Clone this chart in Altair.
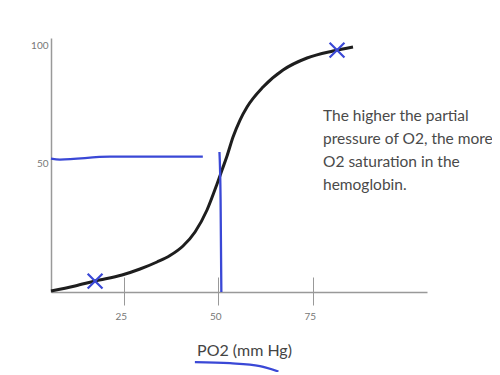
import altair as alt
import pandas as pd

# Oxygen dissociation curve (hand-traced)
curve_x = [5.74, 12.09, 17.38, 24.52, 29.29, 33.78, 37.22, 40.66, 43.84, 47.01, 49.66, 50.98, 52.30, 53.89, 55.74, 57.60, 61.83, 67.12, 73.47, 80.34, 85.63]
curve_y = [-3.58, -1.47, 0.63, 3.16, 5.69, 8.64, 11.37, 15.38, 21.27, 30.54, 41.49, 47.39, 53.29, 61.29, 68.45, 73.93, 82.35, 89.51, 94.57, 97.52, 99.2]

# Blue hand-drawn guide strokes
hline_x = [5.74, 8.1, 21.3, 45.9]
hline_y = [52.2, 51.8, 53.0, 53.0]
vline_x = [50.3, 50.6, 50.8]
vline_y = [55.0, 34.8, -4.0]
under_x = [43.8, 53.1, 61.0, 65.9]
under_y = [-33.5, -34.0, -35.2, -37.5]

# X marks
mark_x = [17.4, 81.4]
mark_y = [0.6, 97.9]

x_ticks = [25, 50, 75]
y_ticks = [50, 100]
x_title = "PO2 (mm Hg)"
note_lines = ["The higher the partial", "pressure of O2, the more", "O2 saturation in the", "hemoglobin."]

BLUE = "#3a48d6"
FONT = "Lato"

xscale = alt.Scale(domain=[5.74, 105.2], nice=False, zero=False)
yscale = alt.Scale(domain=[-4, 103], nice=False, zero=False)

yaxis = alt.Axis(values=y_ticks, title=None, grid=False, tickSize=0, labelPadding=3,
                 labelFont=FONT, labelFontSize=10, labelColor="#777",
                 domainColor="#999", domainWidth=1.5)

def X(axis=None):
    return alt.X("x:Q", scale=xscale, axis=axis)

def Y():
    return alt.Y("y:Q", scale=yscale, axis=yaxis)

curve_df = pd.DataFrame({"x": curve_x, "y": curve_y})
curve = alt.Chart(curve_df).mark_line(color="#1e1e1e", strokeWidth=3, interpolate="monotone").encode(
    x=X(alt.Axis(values=x_ticks, grid=False, tickSize=13, tickColor="#999", tickWidth=1,
                 labelPadding=6, labelOffset=-3, labelFont=FONT, labelFontSize=10, labelColor="#777",
                 domainColor="#999", domainWidth=1.5,
                 title=x_title, titleFont=FONT, titleFontSize=16, titleFontWeight="normal",
                 titleColor="#444", titleX=193, titleY=58, titleBaseline="middle", titleAlign="center")),
    y=Y(),
)

rows = []
for name, xs, ys in [("h", hline_x, hline_y), ("v", vline_x, vline_y), ("u", under_x, under_y)]:
    for i, (a, b) in enumerate(zip(xs, ys)):
        rows.append({"s": name, "i": i, "x": a, "y": b})
blue_df = pd.DataFrame(rows)
blue = alt.Chart(blue_df).mark_line(color=BLUE, strokeWidth=2.3, interpolate="monotone").encode(
    x=X(), y=Y(), detail="s:N", order="i:Q"
)

# second x axis to extend tick marks above the baseline
ticks_up = alt.Chart(pd.DataFrame({"x": x_ticks, "y": [0] * len(x_ticks)})).mark_point(opacity=0).encode(
    x=X(alt.Axis(values=x_ticks, orient="bottom", offset=-15, tickSize=15, tickColor="#999", tickWidth=1,
                 labels=False, domain=False, grid=False, title=None)),
    y=Y(),
)

marks = alt.Chart(pd.DataFrame({"x": mark_x, "y": mark_y})).mark_point(
    shape="M-1,-1L1,1M1,-1L-1,1", filled=False, color=BLUE, strokeWidth=2.2, size=220, opacity=1
).encode(x=X(), y=Y())

note = alt.Chart(pd.DataFrame({"x": [77.7], "y": [68.2], "t": ["\n".join(note_lines)]})).mark_text(
    align="left", baseline="alphabetic", font=FONT, fontSize=15.5, color="#4a4a4a",
    lineBreak="\n", lineHeight=23
).encode(x=X(), y=Y(), text="t:N")

chart = alt.layer(curve, ticks_up, blue, marks, note).resolve_axis(x="independent").properties(
    width=376, height=254,
    padding={"left": 43, "top": 30, "right": 65, "bottom": 80},
    autosize=alt.AutoSizeParams(type="none"),
).configure(background="white").configure_view(stroke=None, strokeWidth=0)

chart.save("out.html", embed_options={"renderer": "svg", "actions": False})
